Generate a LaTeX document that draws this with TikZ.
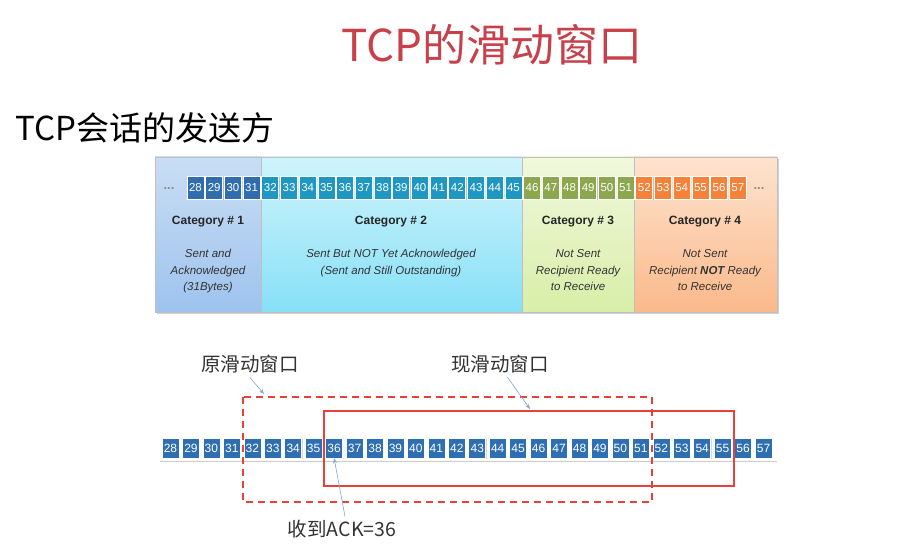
\documentclass[tikz,border=0pt]{standalone}
\usepackage{fontspec}
\setmainfont{Liberation Sans}
\newfontfamily\cjk{Noto Sans CJK SC}
\usetikzlibrary{arrows.meta,shadows}
\definecolor{titlered}{HTML}{C8404A}
\definecolor{bgAt}{HTML}{C9DDF4}\definecolor{bgAb}{HTML}{9EC3EE}
\definecolor{bgBt}{HTML}{CFF3FB}\definecolor{bgBb}{HTML}{86E0F7}
\definecolor{bgCt}{HTML}{F0F8DC}\definecolor{bgCb}{HTML}{D8EEA8}
\definecolor{bgDt}{HTML}{FDE3CF}\definecolor{bgDb}{HTML}{FBB98A}
\definecolor{cellA}{HTML}{2F6DAE}
\definecolor{cellB}{HTML}{1F97C3}
\definecolor{cellC}{HTML}{8CA74E}
\definecolor{cellD}{HTML}{F5823A}
\definecolor{cellE}{HTML}{2E6FB4}
\definecolor{winred}{HTML}{E8413A}
\definecolor{arrowblue}{HTML}{7FA6D2}
\definecolor{txtgray}{HTML}{333333}
\tikzset{
  catbox/.style={draw=black!25, line width=0.5pt},
  tcell/.style={draw=white, line width=0.8pt, minimum width=17pt, minimum height=23pt,
    inner sep=0pt, text=white, font=\fontsize{11.5}{12}\selectfont,
    drop shadow={shadow xshift=0.8pt, shadow yshift=-0.8pt, opacity=0.35}},
  bcell/.style={fill=cellE, draw=white, line width=0.6pt, minimum width=17pt, minimum height=20pt,
    inner sep=0pt, text=white, font=\fontsize{12}{12}\selectfont,
    drop shadow={shadow xshift=0.8pt, shadow yshift=-1.2pt, opacity=0.3}},
  cattitle/.style={font=\bfseries\fontsize{12}{14}\selectfont, text=black!85},
  catdesc/.style={font=\itshape\fontsize{11.5}{16.5}\selectfont, text=txtgray, align=center},
  cjklabel/.style={font=\cjk\fontsize{19.5}{22}\selectfont, text=black!80},
  pointer/.style={draw=arrowblue, line width=0.6pt, -{Stealth[length=5pt,width=4pt]}},
  dots/.style={text=black!45, font=\bfseries\fontsize{13}{13}\selectfont},
}
\begin{document}
\begin{tikzpicture}[x=1pt,y=-1pt]
\useasboundingbox (0,0) rectangle (911,545);
% titles
\node[font=\cjk\fontsize{44}{46}\selectfont, text=titlered] (title) at (492,45) {TCP的滑动窗口};
\node[font=\cjk\fontsize{33}{36}\selectfont, text=black, anchor=west] (sub) at (12,128) {TCP会话的发送方};
% panel shadow
\fill[black!18] (157,159) rectangle (779,314);
% category backgrounds
\path[catbox, top color=bgAt, bottom color=bgAb] (155,157) rectangle (261,312);
\path[catbox, top color=bgBt, bottom color=bgBb] (261,157) rectangle (522,312);
\path[catbox, top color=bgCt, bottom color=bgCb] (522,157) rectangle (634,312);
\path[catbox, top color=bgDt, bottom color=bgDb] (634,157) rectangle (777,312);
% top cells
\foreach \n in {28,...,57}{
  \pgfmathsetmacro{\xx}{195.5+(\n-28)*18.7}
  \ifnum\n<32 \def\cc{cellA}\else\ifnum\n<46 \def\cc{cellB}\else\ifnum\n<52 \def\cc{cellC}\else\def\cc{cellD}\fi\fi\fi
  \node[tcell, fill=\cc] (t\n) at (\xx,187.5) {\n};
}
\node[dots] (dl) at (169,189) {...};
\node[dots] (dr) at (759,189) {...};
% category texts
\node[cattitle] (c1) at (208,222) {Category \# 1};
\node[cattitle] (c2) at (391,222) {Category \# 2};
\node[cattitle] (c3) at (578,222) {Category \# 3};
\node[cattitle] (c4) at (705,222) {Category \# 4};
\node[catdesc, anchor=north] (d1) at (208,246) {Sent and\\Acknowledged\\(31Bytes)};
\node[catdesc, anchor=north] (d2) at (391,246) {Sent But NOT Yet Acknowledged\\(Sent and Still Outstanding)};
\node[catdesc, anchor=north] (d3) at (578,246) {Not Sent\\Recipient Ready\\to Receive};
\node[catdesc, anchor=north] (d4) at (705,246) {Not Sent\\Recipient \textbf{NOT} Ready\\to Receive};
% bottom row
\draw[black!20, line width=1pt] (160,461) -- (777,461);
\foreach \n in {28,...,57}{
  \pgfmathsetmacro{\xx}{170.5+(\n-28)*20.45}
  \node[bcell] (b\n) at (\xx,448) {\n};
}
% windows
\draw[winred, line width=2pt, dash pattern=on 7pt off 5pt] (243,397) rectangle (652,502);
\draw[winred, line width=2pt] (324,411) rectangle (734,486);
% labels and pointers
\node[cjklabel] (old) at (250,364) {原滑动窗口};
\node[cjklabel] (new) at (500,364) {现滑动窗口};
\node[cjklabel] (ack) at (342,529) {收到ACK=36};
\coordinate (oldtip) at (264,394);
\coordinate (newtip) at (530,409);
\draw[pointer] (old.south) ++(0,1) -- (oldtip);
\draw[pointer] ([xshift=7pt]new.south) -- (newtip);
\draw[pointer] ([xshift=3pt]ack.north) -- (b36.south);
\end{tikzpicture}
\end{document}
